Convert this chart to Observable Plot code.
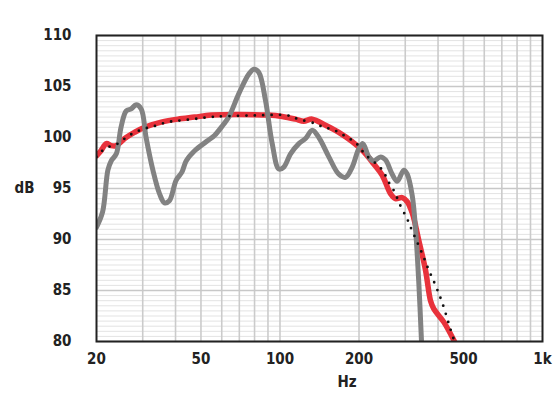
<!DOCTYPE html>
<html>
<head>
<meta charset="utf-8">
<script src="https://cdn.jsdelivr.net/npm/d3@7"></script>
<script src="https://cdn.jsdelivr.net/npm/@observablehq/plot@0.6"></script>
<style>
  html, body { margin: 0; padding: 0; background: #fff; }
  #chart svg { display: block; }
</style>
</head>
<body>
<div id="chart"></div>
<script>
// Gray measured response
const grayHz = [20, 21.1, 22.1, 22.75, 23.8, 24.8, 25.95, 27.1, 28.3, 29.6, 30.9, 32.8, 34.75, 36.3, 37.9, 40.2, 42.3, 43.9, 47.3, 53.1, 56.3, 60.6, 63.8, 69.7, 76.0, 79.5, 83.0, 88.1, 93.4, 99.0, 103.4, 109.7, 118, 125.1, 132.7, 140.6, 153.5, 167.5, 177.7, 188.4, 199.6, 207, 217.9, 227.7, 241.5, 252.4, 267.6, 279.6, 296.3, 305.3, 319.0, 328.4, 338.0, 346.0];
const grayDb = [91.2, 92.7, 96.8, 97.7, 98.4, 101.0, 102.6, 102.8, 103.2, 102.8, 100.0, 96.8, 94.5, 93.6, 93.8, 95.8, 96.6, 97.7, 98.7, 99.7, 100.2, 101.2, 102.0, 104.3, 106.2, 106.7, 106.4, 103.6, 99.4, 96.9, 97.1, 98.4, 99.4, 99.9, 100.7, 100.0, 98.1, 96.4, 96.1, 97.1, 98.9, 99.4, 98.1, 97.7, 98.1, 97.8, 96.4, 95.7, 96.8, 96.4, 94.3, 91.0, 85.7, 80.0];

// Red smoothed response
const redHz = [20, 20.8, 21.8, 22.75, 23.8, 25.6, 27.9, 30.5, 35.3, 40.8, 47.3, 54.7, 70, 90, 102.0, 114.6, 123.2, 132.7, 149.1, 167.5, 188.4, 208.6, 227.7, 245.2, 263.6, 275.4, 292.2, 305.3, 319.0, 338.0, 358.4, 374.5, 385.5, 420.9, 462];
const redDb = [98.2, 98.7, 99.4, 99.2, 99.2, 99.9, 100.5, 101.0, 101.5, 101.8, 102.0, 102.2, 102.25, 102.2, 102.06, 101.8, 101.6, 101.8, 101.2, 100.5, 99.6, 98.6, 97.4, 96.3, 94.5, 94.0, 94.1, 93.7, 92.6, 89.9, 87.0, 84.0, 83.2, 81.9, 80.0];

// Black dotted model response
const dotHz = [20, 20.8, 22.4, 24.1, 25.95, 27.5, 29.6, 31.8, 34.2, 36.9, 39.6, 42.6, 46.6, 50.1, 53.9, 58.0, 80, 107, 117.3, 135.0, 146.9, 158.1, 170.0, 180.3, 194.0, 211.8, 240.0, 250.8, 259.7, 271.4, 287.8, 305.3, 317.0, 348.3, 368.9, 391.2, 415.0, 446.2, 462];
const dotDb = [98.1, 98.6, 99.1, 99.4, 100.0, 100.4, 100.75, 101.0, 101.2, 101.5, 101.6, 101.7, 101.8, 101.9, 102.0, 102.06, 102.16, 102.16, 101.8, 101.4, 101.0, 100.8, 100.4, 100.0, 99.5, 98.3, 97.1, 96.4, 95.6, 94.8, 93.3, 92.0, 91.0, 88.6, 87.0, 85.5, 83.8, 81.2, 80.0];

// Axis ticks and grid
const xTicks = [20, 50, 100, 200, 500, 1000];
const xGrid = [30, 40, 50, 60, 70, 80, 90, 100, 200, 300, 400, 500, 600, 700, 800, 900];
const yTicks = [80, 85, 90, 95, 100, 105, 110];
const yMinor = d3.range(80.5, 110, 0.5).filter(v => v % 5 !== 0);

const gray = grayHz.map((f, i) => ({f, db: grayDb[i]}));
const red = redHz.map((f, i) => ({f, db: redDb[i]}));
const dots = dotHz.map((f, i) => ({f, db: dotDb[i]}));

const font = "'Liberation Sans Narrow', 'DejaVu Sans Condensed', 'Roboto Condensed', sans-serif";

const chart = Plot.plot({
  width: 558,
  height: 408,
  marginLeft: 96,
  marginRight: 16,
  marginTop: 35,
  marginBottom: 67,
  style: {fontFamily: font, fontSize: "15px", fontWeight: "bold", color: "#222", background: "#fff"},
  x: {type: "log", domain: [20, 1000], ticks: xTicks, tickFormat: d => d === 1000 ? "1k" : String(d), tickSize: 0, tickPadding: 12, label: null},
  y: {domain: [80, 110], ticks: yTicks, tickSize: 0, tickPadding: 25, label: null},
  marks: [
    Plot.ruleY(yMinor, {stroke: "#e3e3e3", strokeWidth: 1}),
    Plot.ruleX(xGrid, {stroke: "#cbcbcb", strokeWidth: 1.6}),
    Plot.ruleY(yTicks, {stroke: "#c8c8c8", strokeWidth: 1.6}),
    Plot.line(red, {x: "f", y: "db", stroke: "#e8323b", strokeWidth: 5.5, curve: "catmull-rom", clip: true}),
    Plot.line(gray, {x: "f", y: "db", stroke: "#828282", strokeWidth: 5, curve: "catmull-rom", clip: true}),
    Plot.line(dots, {x: "f", y: "db", stroke: "#111", strokeWidth: 2.8, strokeDasharray: "0,8.4", strokeLinecap: "round", curve: "catmull-rom", clip: true}),
    Plot.frame({stroke: "#222", strokeWidth: 2}),
    Plot.axisX({ticks: xTicks, tickFormat: d => d === 1000 ? "1k" : String(d), tickSize: 0, tickPadding: 12, label: null}),
    Plot.axisY({ticks: yTicks, tickSize: 0, tickPadding: 25, label: null}),
    Plot.text(["dB"], {frameAnchor: "left", x: () => 20, dx: -72, y: () => 95, fontSize: 15, fontWeight: "bold", textAnchor: "middle"}),
    Plot.text(["Hz"], {x: () => 180, y: () => 80, dy: 41, fontSize: 15, fontWeight: "bold", textAnchor: "middle"})
  ]
});
document.getElementById("chart").appendChild(chart);
</script>
</body>
</html>
